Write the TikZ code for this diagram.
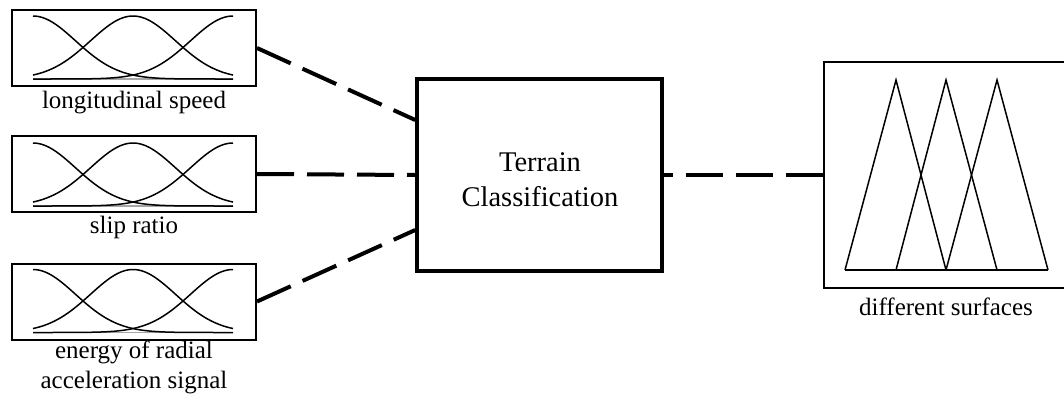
\documentclass[tikz,border=0pt]{standalone}
\usepackage{fontspec}
\setmainfont{Liberation Serif}
\begin{document}
\begin{tikzpicture}[x=1pt,y=-1pt,
  inbox/.style={draw, line width=2pt, minimum width=244pt, minimum height=76pt, inner sep=0pt},
  lbl/.style={font=\fontsize{25}{30}\selectfont, align=center, inner sep=0pt},
  link/.style={line width=4pt, dash pattern=on 37pt off 13pt},
  mf/.style={line width=1.5pt},
  mfset/.pic={
    % three Gaussian membership functions over a grey base line
    \draw[gray!70, line width=1.8pt] (0,63) -- (200,63);
    \draw[mf] plot[domain=0:200, samples=70, smooth] (\x,{63*(1-exp(-0.5*(\x/42.5)^2))});
    \draw[mf] plot[domain=0:200, samples=70, smooth] (\x,{63*(1-exp(-0.5*((\x-100)/42.5)^2))});
    \draw[mf] plot[domain=0:200, samples=70, smooth] (\x,{63*(1-exp(-0.5*((\x-200)/42.5)^2))});
  }]
\clip (0,0) rectangle (1064,399);
\fill[white] (0,0) rectangle (1064,399);

% input boxes
\node[inbox] (b1) at (134,48) {};
\node[inbox] (b2) at (134,174) {};
\node[inbox] (b3) at (134,301.5) {};
\pic at (33,16) {mfset};
\pic at (33,143) {mfset};
\pic at (33,269.5) {mfset};

\node[lbl] (l1) at (134,103) {longitudinal speed};
\node[lbl] (l2) at (134,227.5) {slip ratio};
\node[lbl] (l3) at (134,367) {energy of radial\\acceleration signal};

% classifier
\node[draw, line width=3.5pt, minimum width=245pt, minimum height=192pt, inner sep=0pt] (tc) at (539.5,175) {};
\node[font=\fontsize{28.5}{35}\selectfont, align=center, inner sep=0pt] (tt) at (540,180) {Terrain\\Classification};

% output box
\node[draw, line width=2.5pt, minimum width=246pt, minimum height=226pt, inner sep=0pt] (rb) at (947,175) {};
\draw[mf] (845,270) -- (1048,270);
\draw[mf] (845,270) -- (896,80) -- (946,270);
\draw[mf] (896,270) -- (946,80) -- (997,270);
\draw[mf] (946,270) -- (997,80) -- (1048,270);
\node[lbl] (l4) at (946,307) {different surfaces};

% connectors
\draw[link] (b1.east) -- ([yshift=55pt]tc.west);
\draw[link] (b2.east) -- (tc.west);
\draw[link] (b3.east) -- ([yshift=-55pt]tc.west);
\draw[link] (rb.west) -- (tc.east);
\end{tikzpicture}
\end{document}
